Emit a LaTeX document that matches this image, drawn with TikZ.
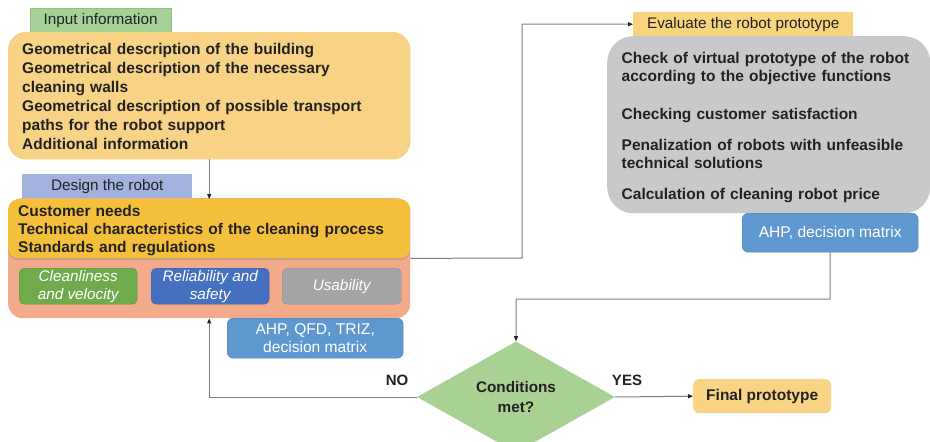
\documentclass[tikz,border=0pt]{standalone}
\usepackage{fontspec}
\setmainfont{Liberation Sans}
\usetikzlibrary{arrows.meta,shapes.geometric,shadows}
\definecolor{tabgreen}{HTML}{A6D196}
\definecolor{tabblue}{HTML}{A1B3DD}
\definecolor{tabyellow}{HTML}{F9D47F}
\definecolor{inputfill}{HTML}{F8D386}
\definecolor{salmon}{HTML}{F2AA8A}
\definecolor{gold}{HTML}{F4C03C}
\definecolor{subgreen}{HTML}{6FAA4C}
\definecolor{subblue}{HTML}{4570C0}
\definecolor{subgray}{HTML}{A5A5A5}
\definecolor{toolblue}{HTML}{5F97CF}
\definecolor{evalgray}{HTML}{C9C9CB}
\definecolor{diagreen}{HTML}{A9D193}
\definecolor{finalfill}{HTML}{F9D485}
\definecolor{linegray}{HTML}{7F7F7F}
\definecolor{textdark}{HTML}{222222}
\begin{document}
\begin{tikzpicture}[x=1pt,y=-1pt,
  tabbox/.style={anchor=north west,inner sep=0pt,minimum height=24pt,font=\fontsize{15.3}{17}\selectfont,text=textdark},
  bigbox/.style={anchor=north west,inner ysep=0pt,align=left,font=\fontsize{15.5}{19}\selectfont\bfseries,text=textdark},
  subbox/.style={anchor=north west,inner sep=0pt,minimum width=118pt,minimum height=36pt,rounded corners=5pt,align=center,text=white,font=\fontsize{15.3}{18}\selectfont\itshape},
  toolbox/.style={anchor=north west,inner sep=0pt,minimum width=176pt,rounded corners=6pt,align=center,fill=toolblue,draw=toolblue!85!black,text=white,font=\fontsize{15.6}{18}\selectfont},
  conn/.style={draw=linegray,line width=1pt,-{Triangle[length=5pt,width=4pt,color=textdark]}},
  lbl/.style={font=\fontsize{15}{17}\selectfont\bfseries,text=textdark}
]
\useasboundingbox (0,0) rectangle (930,442);

% Input information
\node[tabbox,fill=tabgreen,draw=tabgreen!90!black,minimum width=141pt] (intab) at (30,8) {Input information};
\node[bigbox,fill=inputfill,draw=inputfill!90!orange,rounded corners=18pt,inner xsep=14pt,text width=374pt,minimum height=127pt] (in) at (8,32)
{\rule{0pt}{13.5pt}Geometrical description of the building\\
Geometrical description of the necessary\\
cleaning walls\\
Geometrical description of possible transport\\
paths for the robot support\\
Additional information};

% Design the robot
\node[tabbox,fill=tabblue,minimum width=170pt] (destab) at (22,174) {Design the robot};
\node[anchor=north west,fill=salmon,rounded corners=14pt,minimum width=402pt,minimum height=120pt,inner sep=0pt] (salmon) at (8,198) {};
\node[bigbox,fill=gold,rounded corners=10pt,inner xsep=10pt,text width=382pt,minimum height=59pt,font=\fontsize{15.5}{18}\selectfont\bfseries,
  drop shadow={opacity=0.35,shadow xshift=0pt,shadow yshift=-2pt}] (gold) at (8,199)
{\rule{0pt}{15pt}Customer needs\\
Technical characteristics of the cleaning process\\
Standards and regulations};
\node[subbox,fill=subgreen,draw=subgreen!85!black] (s1) at (19,268) {Cleanliness\\and velocity};
\node[subbox,fill=subblue,draw=subblue!85!black] (s2) at (151,268) {Reliability and\\safety};
\node[subbox,fill=subgray,draw=subgray!85!black,minimum width=119pt] (s3) at (282,268) {Usability};
\node[toolbox,minimum height=40pt] (tool1) at (227,318) {AHP, QFD, TRIZ,\\decision matrix};

% Evaluate
\node[tabbox,fill=tabyellow,minimum width=220pt] (evtab) at (633,12) {Evaluate the robot prototype};
\node[bigbox,fill=evalgray,rounded corners=26pt,inner xsep=14.5pt,text width=294pt,minimum height=177pt,font=\fontsize{15.5}{18}\selectfont\bfseries] (ev) at (607,36)
{\rule{0pt}{16pt}Check of virtual prototype of the robot\\
according to the objective functions\\[20pt]
Checking customer satisfaction\\[13pt]
Penalization of robots with unfeasible\\
technical solutions\\[13pt]
Calculation of cleaning robot price};
\node[toolbox,minimum height=39pt] (tool2) at (742,213) {AHP, decision matrix};

% Decision
\node[diamond,fill=diagreen,inner sep=0pt,minimum width=198pt,minimum height=100pt,align=center,font=\fontsize{15.3}{20}\selectfont\bfseries,text=textdark] (dia) at (516,397) {Conditions\\met?};
\node[anchor=north west,fill=finalfill,rounded corners=6pt,minimum width=138pt,minimum height=34pt,inner sep=0pt,font=\fontsize{15.5}{17}\selectfont\bfseries,text=textdark] (final) at (693,379) {Final prototype};

\node[lbl] (no) at (397,380) {NO};
\node[lbl] (yes) at (627,380) {YES};

% Connectors
\coordinate (c1) at (522,258);
\coordinate (c2) at (830,299);
\draw[conn] (in.south) -- (gold.north);
\draw[conn] (gold.south east) -- (c1) |- (evtab.west);
\draw[conn] (tool2.south) -- (c2) -| (dia.north);
\draw[conn] (dia.west) -| (salmon.south);
\draw[conn] (dia.east) -- (final.west);
\end{tikzpicture}
\end{document}
